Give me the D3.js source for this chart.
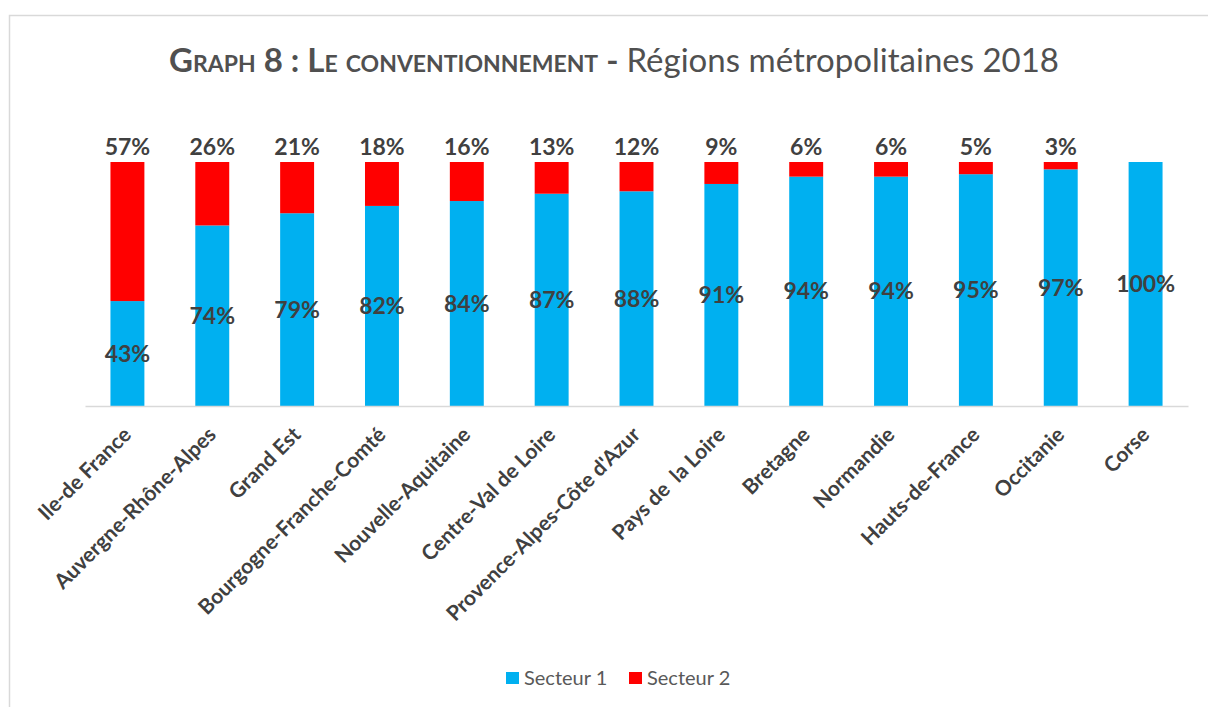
<!DOCTYPE html>
<html>
<head>
<meta charset="utf-8">
<script src="https://cdn.jsdelivr.net/npm/d3@7"></script>
<style>
  body { margin: 0; background: #fff; }
  text { font-family: Lato, "Open Sans", sans-serif; white-space: pre; }
</style>
</head>
<body>
<div id="chart"></div>
<script>
// données
var regions = ['Ile-de France', 'Auvergne-Rhône-Alpes', 'Grand Est', 'Bourgogne-Franche-Comté',
    'Nouvelle-Aquitaine', 'Centre-Val de Loire', "Provence-Alpes-Côte d'Azur", 'Pays de  la Loire',
    'Bretagne', 'Normandie', 'Hauts-de-France', 'Occitanie', 'Corse'];
var secteur1 = [43, 74, 79, 82, 84, 87, 88, 91, 94, 94, 95, 97, 100];
var secteur2 = [57, 26, 21, 18, 16, 13, 12, 9, 6, 6, 5, 3, 0];
var seriesNames = ['Secteur 1', 'Secteur 2'];
var yDomain = [0, 100];

var W = 1208, H = 707;
var blue = '#00B0F0', red = '#FF0000', textC = '#404040';

var svg = d3.select('#chart').append('svg').attr('width', W).attr('height', H);

// cadre
svg.append('rect').attr('x', 9.5).attr('y', 15.5).attr('width', W + 10).attr('height', H + 10)
    .attr('fill', 'none').attr('stroke', '#d9d9d9').attr('stroke-width', 1.5);

// titre
var title = svg.append('text').attr('x', 614).attr('y', 72).attr('text-anchor', 'middle')
    .style('font-size', '33px').attr('fill', '#505050');
title.append('tspan').text('Graph 8 : Le conventionnement - ')
    .style('font-weight', 'bold').style('font-variant', 'small-caps');
title.append('tspan').text('Régions métropolitaines 2018').style('font-weight', 'normal');

var x = d3.scaleBand().domain(regions).range([85, 1188]).paddingInner(0.6).paddingOuter(0.3);
var y = d3.scaleLinear().domain(yDomain).range([406, 162]);

var data = regions.map(function (r, i) { return {region: r, s1: secteur1[i], s2: secteur2[i]}; });

// barres secteur 1
svg.selectAll('.s1').data(data).enter().append('rect')
    .attr('x', function (d) { return x(d.region); })
    .attr('y', function (d) { return y(d.s1); })
    .attr('width', x.bandwidth())
    .attr('height', function (d) { return y(0) - y(d.s1); })
    .attr('fill', blue);
// barres secteur 2
svg.selectAll('.s2').data(data.filter(function (d) { return d.s2 > 0; })).enter().append('rect')
    .attr('x', function (d) { return x(d.region); })
    .attr('y', function (d) { return y(d.s1 + d.s2); })
    .attr('width', x.bandwidth())
    .attr('height', function (d) { return y(d.s1) - y(d.s1 + d.s2); })
    .attr('fill', red);

// axe
var axis = svg.append('g').attr('transform', 'translate(0,' + y(0) + ')')
    .call(d3.axisBottom(x).tickSize(0));
axis.select('.domain').attr('stroke', '#d9d9d9').attr('stroke-width', 1.5);
axis.selectAll('.tick text')
    .attr('transform', 'translate(5,30) rotate(-45)')
    .attr('dy', 0).attr('y', 0)
    .attr('text-anchor', 'end')
    .style('font-size', '21px').style('font-weight', 'bold').style('font-family', 'Lato')
    .attr('fill', textC);

// étiquettes secteur 1
svg.selectAll('.l1').data(data).enter().append('text')
    .attr('x', function (d) { return x(d.region) + x.bandwidth() / 2; })
    .attr('y', function (d) { return y(d.s1 / 2) + 8; })
    .attr('text-anchor', 'middle')
    .style('font-size', '23px').style('font-weight', 'bold').attr('fill', textC)
    .text(function (d) { return d.s1 + '%'; });
// étiquettes secteur 2
svg.selectAll('.l2').data(data.filter(function (d) { return d.s2 > 0; })).enter().append('text')
    .attr('x', function (d) { return x(d.region) + x.bandwidth() / 2; })
    .attr('y', y(100) - 7)
    .attr('text-anchor', 'middle')
    .style('font-size', '23px').style('font-weight', 'bold').attr('fill', textC)
    .text(function (d) { return d.s2 + '%'; });

// légende
var legX = [506, 629], colors = [blue, red];
seriesNames.forEach(function (n, i) {
    svg.append('rect').attr('x', legX[i]).attr('y', 672).attr('width', 13).attr('height', 12).attr('fill', colors[i]);
    svg.append('text').attr('x', legX[i] + 18).attr('y', 685).style('font-size', '20px')
        .attr('fill', '#595959').text(n);
});
</script>
</body>
</html>
